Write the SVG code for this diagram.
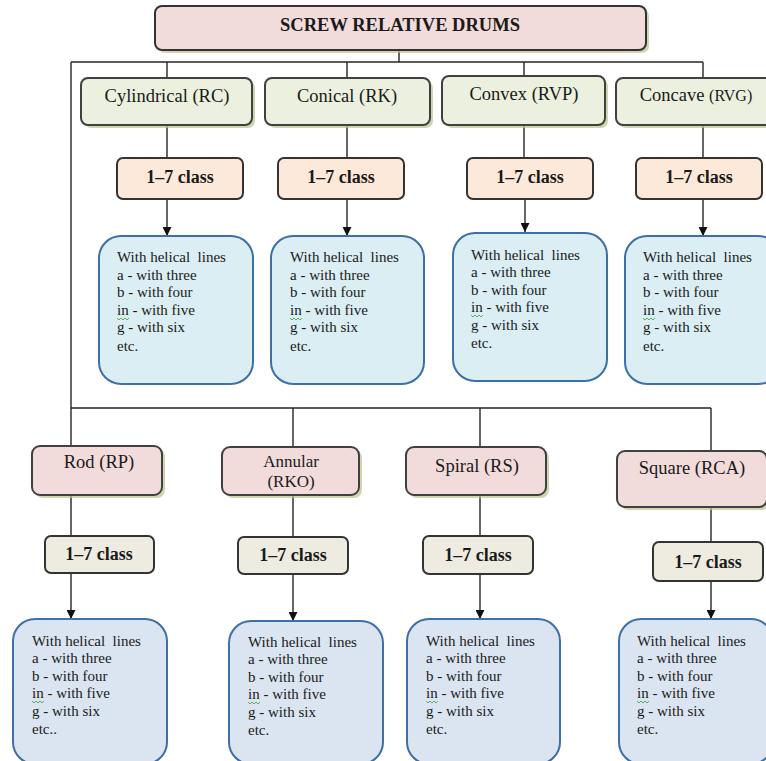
<svg xmlns="http://www.w3.org/2000/svg" width="766" height="761" viewBox="0 0 766 761">
<style>
text{font-family:"Liberation Serif","Times New Roman",serif;fill:#1a1a1a}
.t{font-size:18.5px;text-anchor:middle}
.b{font-size:18px;font-weight:bold;text-anchor:middle}
.s{font-size:15px}
.sh{fill:#b9c58f;opacity:.7}
.title{fill:#f2dcdb;stroke:#333;stroke-width:2}
.g{fill:#ebf1de;stroke:#404040;stroke-width:2}
.p{fill:#f2dcdb;stroke:#404040;stroke-width:2}
.c1{fill:#fde9d9;stroke:#333;stroke-width:2}
.c2{fill:#eeece1;stroke:#333;stroke-width:2}
.bl1{fill:#daeef3;stroke:#3e6fa6;stroke-width:2}
.bl2{fill:#dbe5f1;stroke:#3e6fa6;stroke-width:2}
.ln{fill:none;stroke:#262626;stroke-width:1.4}
.sq{fill:none;stroke:#3c9a3c;stroke-width:0.8}
</style>
<defs>
<marker id="ah" viewBox="0 0 10 10" refX="10" refY="5" markerWidth="9" markerHeight="9" markerUnits="userSpaceOnUse" orient="auto">
<path d="M0,0 L10,5 L0,10 z" fill="#111"/>
</marker>
</defs>

<g id="connectors">
<path class="ln" d="M399,50 V62 M71,62 H703 M71,62 V446 M71,408 H711"/>
<path class="ln" d="M167,62 V78 M347,62 V78 M524,62 V76 M703,62 V78"/>
<path class="ln" d="M167,125 V158 M347,125 V158 M524,125 V158 M703,125 V158"/>
<path class="ln" marker-end="url(#ah)" d="M167,199 V236"/>
<path class="ln" marker-end="url(#ah)" d="M347,199 V236"/>
<path class="ln" marker-end="url(#ah)" d="M525,199 V232"/>
<path class="ln" marker-end="url(#ah)" d="M703,199 V236"/>
<path class="ln" d="M293,408 V447 M480,408 V447 M711,408 V451"/>
<path class="ln" d="M71,495 V536 M293,495 V537 M480,495 V536 M711,507 V542"/>
<path class="ln" marker-end="url(#ah)" d="M71,573 V619"/>
<path class="ln" marker-end="url(#ah)" d="M293,574 V621"/>
<path class="ln" marker-end="url(#ah)" d="M480,574 V619"/>
<path class="ln" marker-end="url(#ah)" d="M711,581 V619"/>
</g>

<g id="root">
<rect class="sh" x="158" y="9" width="491" height="44" rx="7"/>
<rect class="title" x="155" y="6" width="491" height="44" rx="7"/>
<text class="b" x="400" y="31" style="font-size:18.5px">SCREW RELATIVE DRUMS</text>
</g>

<g id="cylindrical">
<rect class="sh" x="84" y="81" width="171" height="47" rx="7"/>
<rect class="g" x="81" y="78" width="171" height="47" rx="7"/>
<text class="t" x="167" y="102">Cylindrical (RC)</text>
</g>
<g id="conical">
<rect class="sh" x="268" y="81" width="165" height="47" rx="7"/>
<rect class="g" x="265" y="78" width="165" height="47" rx="7"/>
<text class="t" x="347" y="102">Conical (RK)</text>
</g>
<g id="convex">
<rect class="sh" x="445" y="79" width="163" height="49" rx="7"/>
<rect class="g" x="442" y="76" width="163" height="49" rx="7"/>
<text class="t" x="524" y="100">Convex (RVP)</text>
</g>
<g id="concave">
<rect class="sh" x="619" y="81" width="160" height="47" rx="7"/>
<rect class="g" x="616" y="78" width="160" height="47" rx="7"/>
<text class="t" x="696" y="101">Concave <tspan style="font-size:16px">(RVG)</tspan></text>
</g>

<g id="class-rc"><rect class="c1" x="117" y="158" width="126" height="41" rx="6"/><text class="b" x="180" y="183">1–7 class</text></g>
<g id="class-rk"><rect class="c1" x="278" y="158" width="126" height="41" rx="6"/><text class="b" x="341" y="183">1–7 class</text></g>
<g id="class-rvp"><rect class="c1" x="467" y="158" width="126" height="41" rx="6"/><text class="b" x="530" y="183">1–7 class</text></g>
<g id="class-rvg"><rect class="c1" x="636" y="158" width="126" height="41" rx="6"/><text class="b" x="699" y="183">1–7 class</text></g>

<g id="lines-rc">
<rect class="bl1" x="99" y="236" width="154" height="148" rx="22"/>
<text class="s" x="117" y="262" xml:space="preserve">With helical  lines</text>
<text class="s" x="117" y="280">a - with three</text>
<text class="s" x="117" y="297">b - with four</text>
<text class="s" x="117" y="315">in - with five</text>
<text class="s" x="117" y="332">g - with six</text>
<text class="s" x="117" y="351">etc.</text>
<path class="sq" d="M117,318 l2,2 l2,-2 l2,2 l2,-2 l2,2 l2,-2"/>
</g>
<g id="lines-rk">
<rect class="bl1" x="271" y="236" width="153" height="148" rx="22"/>
<text class="s" x="290" y="262" xml:space="preserve">With helical  lines</text>
<text class="s" x="290" y="280">a - with three</text>
<text class="s" x="290" y="297">b - with four</text>
<text class="s" x="290" y="315">in - with five</text>
<text class="s" x="290" y="332">g - with six</text>
<text class="s" x="290" y="351">etc.</text>
<path class="sq" d="M290,318 l2,2 l2,-2 l2,2 l2,-2 l2,2 l2,-2"/>
</g>
<g id="lines-rvp">
<rect class="bl1" x="453" y="233" width="154" height="148" rx="22"/>
<text class="s" x="471" y="260" xml:space="preserve">With helical  lines</text>
<text class="s" x="471" y="277">a - with three</text>
<text class="s" x="471" y="295">b - with four</text>
<text class="s" x="471" y="312">in - with five</text>
<text class="s" x="471" y="330">g - with six</text>
<text class="s" x="471" y="348">etc.</text>
<path class="sq" d="M471,315 l2,2 l2,-2 l2,2 l2,-2 l2,2 l2,-2"/>
</g>
<g id="lines-rvg">
<rect class="bl1" x="625" y="236" width="155" height="148" rx="22"/>
<text class="s" x="643" y="262" xml:space="preserve">With helical  lines</text>
<text class="s" x="643" y="280">a - with three</text>
<text class="s" x="643" y="297">b - with four</text>
<text class="s" x="643" y="315">in - with five</text>
<text class="s" x="643" y="332">g - with six</text>
<text class="s" x="643" y="351">etc.</text>
<path class="sq" d="M643,318 l2,2 l2,-2 l2,2 l2,-2 l2,2 l2,-2"/>
</g>

<g id="rod">
<rect class="sh" x="35" y="449" width="130" height="49" rx="8"/>
<rect class="p" x="32" y="446" width="130" height="49" rx="8"/>
<text class="t" x="99" y="468">Rod (RP)</text>
</g>
<g id="annular">
<rect class="sh" x="225" y="450" width="137" height="48" rx="8"/>
<rect class="p" x="222" y="447" width="137" height="48" rx="8"/>
<text class="t" x="291" y="467" style="font-size:17px">Annular</text>
<text class="t" x="291" y="487" style="font-size:17px">(RKO)</text>
</g>
<g id="spiral">
<rect class="sh" x="409" y="450" width="140" height="48" rx="8"/>
<rect class="p" x="406" y="447" width="140" height="48" rx="8"/>
<text class="t" x="477" y="472">Spiral (RS)</text>
</g>
<g id="square">
<rect class="sh" x="620" y="454" width="150" height="56" rx="8"/>
<rect class="p" x="617" y="451" width="150" height="56" rx="8"/>
<text class="t" x="692" y="474">Square (RCA)</text>
</g>

<g id="class-rp"><rect class="c2" x="45" y="536" width="109" height="37" rx="6"/><text class="b" x="99" y="560">1–7 class</text></g>
<g id="class-rko"><rect class="c2" x="238" y="537" width="110" height="37" rx="6"/><text class="b" x="293" y="561">1–7 class</text></g>
<g id="class-rs"><rect class="c2" x="423" y="536" width="110" height="38" rx="6"/><text class="b" x="478" y="561">1–7 class</text></g>
<g id="class-rca"><rect class="c2" x="653" y="542" width="110" height="39" rx="6"/><text class="b" x="708" y="568">1–7 class</text></g>

<g id="lines-rp">
<rect class="bl2" x="13" y="619" width="154" height="145" rx="22"/>
<text class="s" x="32" y="646" xml:space="preserve">With helical  lines</text>
<text class="s" x="32" y="663">a - with three</text>
<text class="s" x="32" y="681">b - with four</text>
<text class="s" x="32" y="698">in - with five</text>
<text class="s" x="32" y="716">g - with six</text>
<text class="s" x="32" y="734">etc..</text>
<path class="sq" d="M32,701 l2,2 l2,-2 l2,2 l2,-2 l2,2 l2,-2"/>
</g>
<g id="lines-rko">
<rect class="bl2" x="229" y="621" width="154" height="143" rx="22"/>
<text class="s" x="248" y="647" xml:space="preserve">With helical  lines</text>
<text class="s" x="248" y="664">a - with three</text>
<text class="s" x="248" y="682">b - with four</text>
<text class="s" x="248" y="699">in - with five</text>
<text class="s" x="248" y="717">g - with six</text>
<text class="s" x="248" y="735">etc.</text>
<path class="sq" d="M248,702 l2,2 l2,-2 l2,2 l2,-2 l2,2 l2,-2"/>
</g>
<g id="lines-rs">
<rect class="bl2" x="407" y="619" width="153" height="145" rx="22"/>
<text class="s" x="426" y="646" xml:space="preserve">With helical  lines</text>
<text class="s" x="426" y="663">a - with three</text>
<text class="s" x="426" y="681">b - with four</text>
<text class="s" x="426" y="698">in - with five</text>
<text class="s" x="426" y="716">g - with six</text>
<text class="s" x="426" y="734">etc.</text>
<path class="sq" d="M426,701 l2,2 l2,-2 l2,2 l2,-2 l2,2 l2,-2"/>
</g>
<g id="lines-rca">
<rect class="bl2" x="619" y="619" width="154" height="145" rx="22"/>
<text class="s" x="637" y="646" xml:space="preserve">With helical  lines</text>
<text class="s" x="637" y="663">a - with three</text>
<text class="s" x="637" y="681">b - with four</text>
<text class="s" x="637" y="698">in - with five</text>
<text class="s" x="637" y="716">g - with six</text>
<text class="s" x="637" y="734">etc.</text>
<path class="sq" d="M637,701 l2,2 l2,-2 l2,2 l2,-2 l2,2 l2,-2"/>
</g>
</svg>
